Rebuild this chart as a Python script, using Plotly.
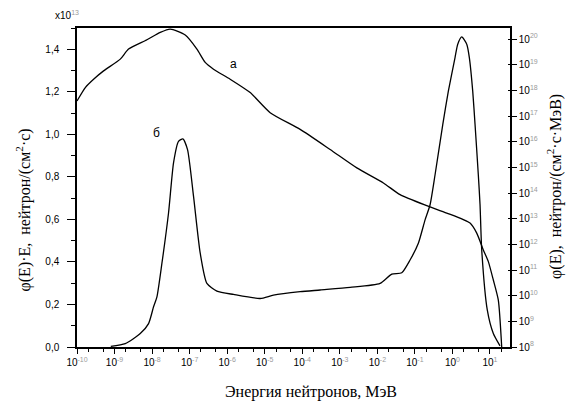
import plotly.graph_objects as go

# Curve "а": phi(E), right log axis  (log10 E [MeV], log10 phi)
a_logE = [-10.00, -9.779, -9.558, -9.292, -8.847, -8.627, -8.137, -7.783, -7.517,
          -7.117, -6.806, -6.585, -6.364, -5.920, -5.387, -4.855, -4.056, -3.258,
          -2.547, -1.839, -1.395, -0.684, -0.152, 0.468, 0.647, 0.822, 0.956,
          1.089, 1.222, 1.312]
a_logphi = [17.585, 18.109, 18.434, 18.759, 19.217, 19.608, 19.972, 20.261, 20.39,
            20.156, 19.608, 19.088, 18.826, 18.434, 17.914, 17.131, 16.478, 15.696,
            14.98, 14.393, 13.935, 13.505, 13.219, 12.828, 12.437, 11.783, 11.326,
            10.61, 9.827, 8.0]

# Curve "б": phi(E)*E, left linear axis (x10^13)
b_logE = [-9.10, -8.714, -8.315, -8.094, -7.961, -7.871, -7.738, -7.562, -7.429,
          -7.296, -7.179, -7.056, -6.896, -6.718, -6.540, -6.274, -5.832, -5.121,
          -4.767, -4.056, -3.524, -2.726, -1.927, -1.616, -1.350, -1.129, -0.908,
          -0.729, -0.596, -0.463, -0.258, -0.109, 0.069, 0.141, 0.248, 0.381,
          0.450, 0.540, 0.602, 0.689, 0.735, 0.780, 0.929, 1.089, 1.267]
b_val = [0.003, 0.016, 0.063, 0.110, 0.189, 0.236, 0.394, 0.630, 0.866,
         0.967, 0.979, 0.928, 0.708, 0.441, 0.299, 0.263, 0.247, 0.228,
         0.244, 0.260, 0.268, 0.280, 0.299, 0.343, 0.349, 0.409, 0.488,
         0.598, 0.669, 0.810, 1.046, 1.203, 1.361, 1.424, 1.458, 1.424,
         1.361, 1.203, 1.046, 0.810, 0.669, 0.456, 0.173, 0.063, 0.005]

x_exps = list(range(-10, 2))
left_ticks = [0.0, 0.2, 0.4, 0.6, 0.8, 1.0, 1.2, 1.4]
right_exps = list(range(8, 21))

EXP_STYLE = "color:#9a9a9a"

def pow10(e):
    return "10<sup><span style='%s'>%d</span></sup>" % (EXP_STYLE, e)

a_E = [10.0 ** v for v in a_logE]
a_phi = [10.0 ** v for v in a_logphi]
b_E = [10.0 ** v for v in b_logE]

fig = go.Figure()
fig.add_trace(go.Scatter(x=b_E, y=b_val, mode="lines",
                         line=dict(color="black", width=1.3, shape="spline", smoothing=0.6),
                         yaxis="y", showlegend=False))
fig.add_trace(go.Scatter(x=a_E, y=a_phi, mode="lines",
                         line=dict(color="black", width=1.3, shape="spline", smoothing=0.6),
                         yaxis="y2", showlegend=False))

tickfont = dict(family="Liberation Sans, Arial, sans-serif", size=10, color="black")
titlefont = dict(family="Liberation Serif, Times New Roman, serif", size=16, color="black")
labfont = dict(family="Liberation Sans, Arial, sans-serif", size=12, color="black")

fig.update_layout(
    width=570, height=404,
    margin=dict(l=77, r=60, t=28, b=57, autoexpand=False),
    paper_bgcolor="white", plot_bgcolor="white",
    separators=", ",
    xaxis=dict(
        type="log", range=[-10, 1.533], automargin=False,
        tickvals=[10.0 ** e for e in x_exps],
        ticktext=[pow10(e) for e in x_exps],
        ticks="outside", ticklen=5, tickwidth=1, tickcolor="black",
        minor=dict(ticks="outside", ticklen=3, tickcolor="black", showgrid=False),
        showgrid=False, zeroline=False,
        showline=True, linecolor="black", linewidth=1.5, mirror=True,
        tickfont=tickfont,
    ),
    yaxis=dict(
        range=[0, 1.5], automargin=False,
        tickvals=left_ticks,
        ticktext=[("%.1f" % v).replace(".", ",") for v in left_ticks],
        ticks="outside", ticklen=8, tickwidth=1, tickcolor="black",
        minor=dict(dtick=0.1, ticks="outside", ticklen=4, tickcolor="black", showgrid=False),
        ticklabelstandoff=6,
        showgrid=False, zeroline=False,
        showline=True, linecolor="black", linewidth=1.5,
        tickfont=tickfont,
    ),
    yaxis2=dict(
        type="log", range=[8, 20.43], overlaying="y", side="right", automargin=False,
        tickvals=[10.0 ** e for e in right_exps],
        ticktext=[pow10(e) for e in right_exps],
        ticks="outside", ticklen=5, tickwidth=1, tickcolor="black",
        minor=dict(ticks="inside", ticklen=2, tickcolor="black", showgrid=False),
        showgrid=False, zeroline=False,
        showline=True, linecolor="black", linewidth=1.5,
        tickfont=tickfont,
    ),
    annotations=[
        dict(x=-5.84, y=1.329, xref="x", yref="y", text="а", showarrow=False, font=labfont),
        dict(x=-7.889, y=1.008, xref="x", yref="y", text="б", showarrow=False, font=labfont),
        dict(x=-0.022, y=1.042, xref="paper", yref="paper",
             text="x10<sup><span style='%s'>13</span></sup>" % EXP_STYLE,
             showarrow=False, xanchor="center", yanchor="middle",
             font=dict(family="Liberation Sans, Arial, sans-serif", size=10, color="black")),
        dict(x=0.541, y=-0.142, xref="paper", yref="paper",
             text="Энергия нейтронов, МэВ", showarrow=False,
             xanchor="center", yanchor="middle", font=titlefont),
        dict(x=-0.124, y=0.429, xref="paper", yref="paper", textangle=-90,
             text="φ(E)·E,  нейтрон/(см<sup>2</sup>·с)", showarrow=False,
             xanchor="center", yanchor="middle", font=titlefont),
        dict(x=1.104, y=0.502, xref="paper", yref="paper", textangle=-90,
             text="φ(E),  нейтрон/(см<sup>2</sup>·с·МэВ)", showarrow=False,
             xanchor="center", yanchor="middle", font=titlefont),
    ],
)

fig.write_html("out.html")
